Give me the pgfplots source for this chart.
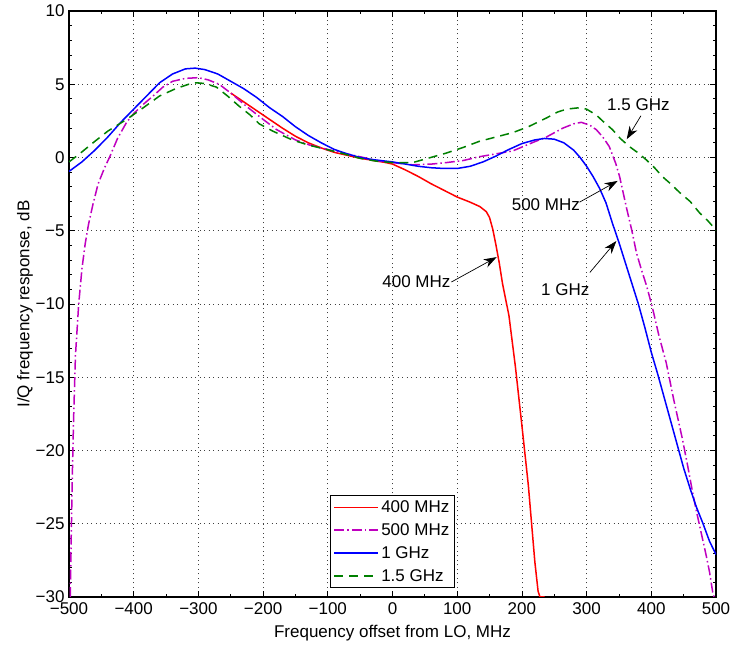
\documentclass[border=0pt]{standalone}
\usepackage{pgfplots}
\pgfplotsset{compat=1.18}
\usepackage{fontspec}
\setmainfont{Liberation Sans}
\usetikzlibrary{arrows.meta}
\definecolor{mred}{rgb}{1,0,0}
\definecolor{mmag}{rgb}{0.75,0,0.75}
\definecolor{mblue}{rgb}{0,0,1}
\definecolor{mgreen}{rgb}{0,0.5,0}
\pgfplotstableread{
x y
-250 4.4
-230 3.8
-210 3.2
-190 2.6
-170 2.0
-150 1.45
-130 1.0
-110 0.65
-90 0.35
-70 0.15
-50 -0.05
-30 -0.2
-10 -0.35
0 -0.45
10 -0.65
20 -0.85
40 -1.3
60 -1.8
80 -2.25
100 -2.7
120 -3.05
135 -3.35
145 -3.7
150 -4.1
155 -4.9
160 -6.0
165 -7.2
170 -8.6
180 -10.8
190 -14.3
200 -18.3
210 -22.4
220 -27.6
225 -29.6
228 -30
235 -30
}\redtab
\pgfplotstableread{
x y
-498 -30
-497 -27
-495 -22
-493 -18
-490 -13.5
-485 -10
-480 -7.6
-475 -5.9
-470 -4.6
-463 -3.2
-455 -1.8
-445 -0.7
-437 0.05
-425 1.3
-411 2.4
-400 3.0
-386 3.6
-370 4.2
-355 4.8
-340 5.2
-320 5.4
-300 5.45
-285 5.3
-268 5.0
-250 4.4
-226 3.5
-200 2.6
-179 1.9
-150 1.2
-128 0.85
-100 0.55
-77 0.3
-50 0.05
-25 -0.2
0 -0.35
31 -0.5
60 -0.45
83 -0.35
110 -0.2
134 0.05
160 0.25
186 0.45
210 0.9
238 1.4
263 2.0
280 2.3
292 2.4
305 2.2
315 1.9
325 1.4
335 0.75
345 -0.4
351 -1.3
362 -3.5
370 -5.0
377 -6.5
385 -7.7
393 -8.8
402 -10.3
412 -12.2
423 -14.0
435 -16.6
448 -19.2
456 -21.0
464 -22.9
470 -24.2
477 -25.6
485 -27.2
490 -28.3
495 -29.7
497 -30
}\magtab
\pgfplotstableread{
x y
-500 -0.95
-480 -0.3
-460 0.5
-440 1.4
-420 2.4
-400 3.3
-380 4.2
-360 5.1
-340 5.7
-320 6.05
-305 6.1
-290 6.0
-270 5.7
-250 5.2
-230 4.7
-210 4.1
-190 3.4
-170 2.8
-150 2.1
-130 1.5
-110 1.0
-90 0.55
-70 0.25
-50 0.0
-30 -0.15
-10 -0.25
0 -0.3
20 -0.45
40 -0.6
60 -0.7
80 -0.75
100 -0.75
120 -0.6
140 -0.3
160 0.1
180 0.55
200 0.95
220 1.2
235 1.3
250 1.25
265 1.0
280 0.5
290 0.0
300 -0.6
310 -1.3
320 -2.1
330 -3.1
340 -4.5
350 -5.8
360 -7.2
370 -8.6
380 -10.0
390 -11.6
400 -13.3
410 -14.8
420 -16.4
430 -18.0
440 -19.6
450 -21.2
460 -22.6
470 -23.9
480 -25.0
490 -26.2
500 -27.1
}\bluetab
\pgfplotstableread{
x y
-500 -0.3
-485 0.2
-463 1.0
-440 1.8
-411 2.6
-385 3.4
-360 4.2
-335 4.7
-315 5.0
-303 5.1
-290 5.05
-272 4.8
-255 4.2
-237 3.5
-220 2.9
-206 2.3
-185 1.8
-170 1.5
-155 1.2
-130 0.85
-102 0.55
-75 0.25
-51 -0.05
-25 -0.25
0 -0.35
31 -0.35
55 -0.05
83 0.3
110 0.7
134 1.1
160 1.4
186 1.7
210 2.1
238 2.7
255 3.1
269 3.3
289 3.4
300 3.3
315 2.9
327 2.4
340 1.9
352 1.3
366 0.75
380 0.3
392 -0.15
405 -0.7
417 -1.3
430 -1.8
444 -2.4
460 -3.0
475 -3.8
487 -4.3
495 -4.7
500 -5.0
}\greentab
\begin{document}
\begin{tikzpicture}[font=\fontsize{17}{20}\selectfont]
\begin{axis}[
  scale only axis,
  width=647pt, height=586pt,
  xmin=-500, xmax=500, ymin=-30, ymax=10,
  xtick={-500,-400,...,500},
  xticklabels={−500,−400,−300,−200,−100,0,100,200,300,400,500},
  ytick={-30,-25,...,10},
  yticklabels={−30,−25,−20,−15,−10,−5,0,5,10},
  minor x tick num=1,
  minor y tick num=4,
  tick align=inside,
  xtick pos=both, ytick pos=both,
  xticklabel pos=bottom, yticklabel pos=left,
  major tick length=6pt, minor tick length=3pt,
  tick style={black, line width=0.8pt},
  axis line style={black, line width=1.2pt},
  grid=major,
  major grid style={black!75, dash pattern=on 1pt off 3.5pt, line width=0.7pt},
  tick label style={font=\fontsize{17}{20}\selectfont},
  xticklabel style={yshift=-2pt},
  yticklabel style={xshift=-1pt},
  xlabel={Frequency offset from LO, MHz},
  ylabel={I/Q frequency response, dB},
  xlabel style={at={(axis description cs:0.5,0)}, anchor=center, yshift=-36pt},
  ylabel style={at={(axis description cs:-0.068,0.5)}, anchor=center},
  legend style={at={(axis description cs:0.5,0.015)}, anchor=south, line width=1pt, font=\fontsize{17}{20}\selectfont, row sep=5.5pt, inner sep=3pt},
  legend cell align=left,
  legend image code/.code={\draw[#1, line width=1.6pt] (0pt,0pt) -- (44pt,0pt);},
]
\addplot[draw=mred, line width=1.5pt] table {\redtab};
\addlegendentry{400 MHz}
\addplot[draw=mmag, line width=1.5pt, dash pattern=on 10pt off 3pt on 1.5pt off 3pt] table {\magtab};
\addlegendentry{500 MHz}
\addplot[draw=mblue, line width=1.5pt] table {\bluetab};
\addlegendentry{1 GHz}
\addplot[draw=mgreen, line width=1.5pt, dash pattern=on 9pt off 6pt] table {\greentab};
\addlegendentry{1.5 GHz}

\node at (axis cs:380,3.6) {1.5 GHz};
\draw[-{Stealth[length=13pt,width=9pt]}, line width=0.7pt] (axis cs:384,2.85) -- (axis cs:362,1.25);
\node at (axis cs:237,-3.2) {500 MHz};
\draw[-{Stealth[length=13pt,width=9pt]}, line width=0.7pt] (axis cs:289,-3.05) -- (axis cs:348,-1.6);
\node at (axis cs:267,-9.0) {1 GHz};
\draw[-{Stealth[length=13pt,width=9pt]}, line width=0.7pt] (axis cs:305,-7.85) -- (axis cs:346,-5.7);
\node at (axis cs:37,-8.5) {400 MHz};
\draw[-{Stealth[length=13pt,width=9pt]}, line width=0.7pt] (axis cs:91,-8.5) -- (axis cs:161,-6.8);
\end{axis}
\pgfresetboundingbox
\path ([shift={(-69pt,-48pt)}]current axis.south west) rectangle ([shift={(18pt,11pt)}]current axis.north east);
\end{tikzpicture}
\end{document}
